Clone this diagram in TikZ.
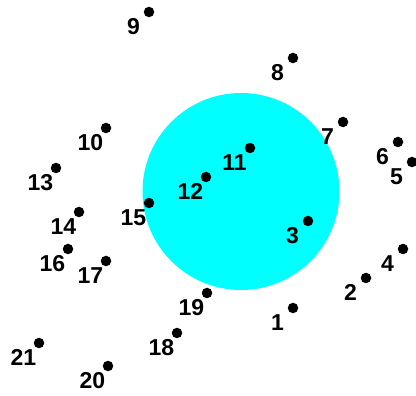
\documentclass[tikz,border=0pt]{standalone}
\usepackage{fontspec}
\setmainfont{Liberation Sans}
\definecolor{pcyan}{RGB}{0,255,255}
\begin{document}
\begin{tikzpicture}[x=1pt,y=-1pt,
  dot/.style={circle,fill=black,inner sep=0pt,minimum size=10.5pt},
  lab/.style={inner sep=0pt,font=\fontsize{23}{25}\selectfont\bfseries}]
\useasboundingbox (0,0) rectangle (416,396);
\fill[pcyan] (241,191.5) circle (98.5);
\foreach \n/\x/\y in {1/293/308,2/366/278,3/308/221,4/403/249,5/412/162,6/398/142,
  7/343/122,8/293/58,9/149/12,10/106/128,11/250/148,12/206/177,13/56/168,
  14/79/212,15/149/203,16/68/249,17/106/261,18/177/333,19/207/293,20/108/366,21/39/343}{
  \node[dot] (p\n) at (\x,\y) {};
  \node[lab] (l\n) at ([shift={(-15.5,14.5)}]p\n.center) {\n};
}
\end{tikzpicture}
\end{document}
